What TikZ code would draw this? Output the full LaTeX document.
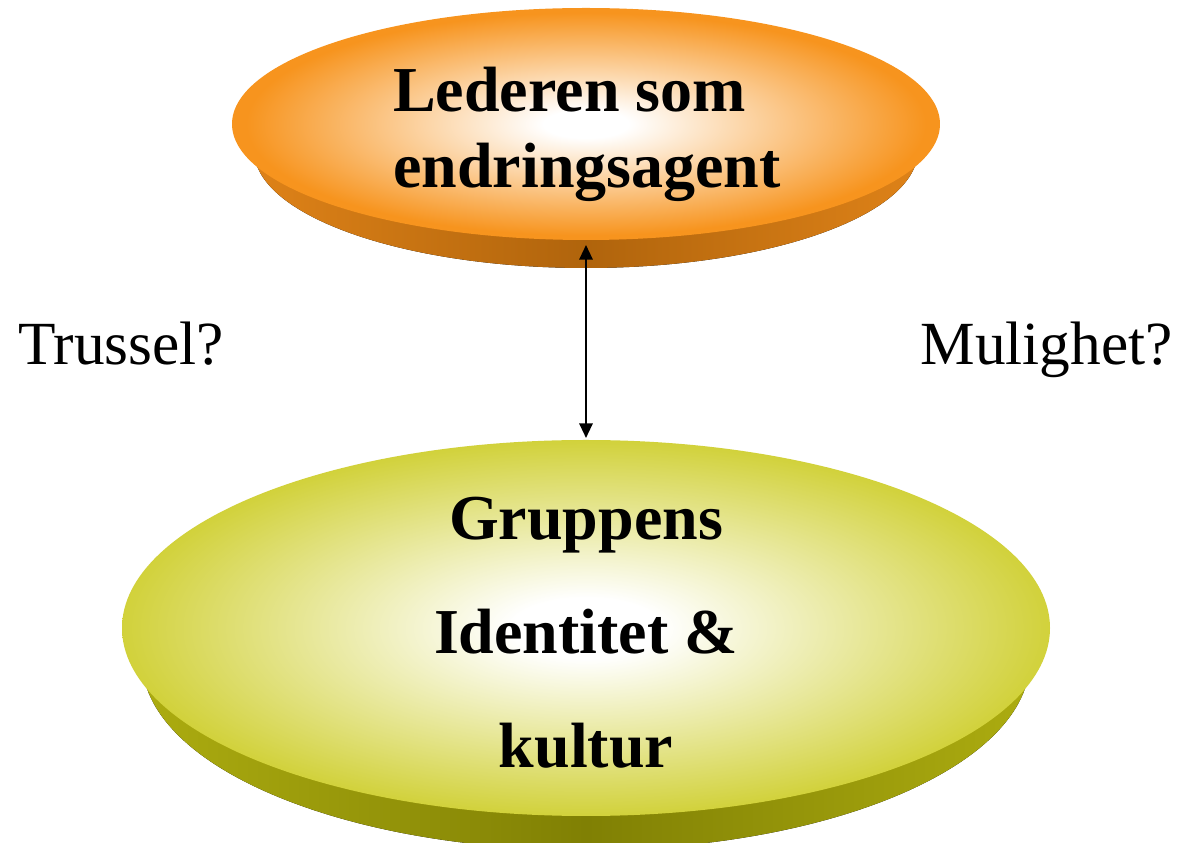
\documentclass[tikz,border=0pt]{standalone}
\usepackage{fontspec}
\setmainfont{Liberation Serif}
\usetikzlibrary{shapes.geometric,arrows.meta}

\definecolor{leadorange}{RGB}{247,148,30}
\definecolor{leadside}{RGB}{176,100,12}
\definecolor{leadsidelight}{RGB}{222,130,24}
\definecolor{groupyellow}{RGB}{205,205,40}
\definecolor{groupside}{RGB}{128,128,4}
\definecolor{groupsidelight}{RGB}{172,172,16}

% glowing faces: white centre fading to the rim colour
\pgfdeclareradialshading{leadglow}{\pgfpoint{0bp}{0bp}}{color(0bp)=(white); color(3bp)=(white); color(24bp)=(leadorange); color(50bp)=(leadorange)}
\pgfdeclareradialshading{groupglow}{\pgfpoint{0bp}{0bp}}{color(0bp)=(white); color(4bp)=(white); color(27bp)=(groupyellow); color(50bp)=(groupyellow)}

\tikzset{
  disc/.style={ellipse, inner sep=0pt, outer sep=0pt, shade},
  boldlabel/.style={font=\bfseries\fontsize{48}{57}\selectfont},
  plainlabel/.style={font=\fontsize{46}{55}\selectfont, inner sep=0pt},
  link/.style={line width=1.6pt, {Triangle[length=11pt,width=10pt]}-{Triangle[length=11pt,width=10pt]}}
}

\begin{document}
\begin{tikzpicture}[x=0.75pt,y=0.75pt]
  \useasboundingbox (0,0) rectangle (1186,843);
  \clip (0,0) rectangle (1186,843);

  % extruded sides of the two discs
  \fill[left color=leadsidelight, right color=leadsidelight, middle color=leadside]
    (586,693) ellipse [x radius=332, y radius=118];
  \fill[left color=groupsidelight, right color=groupsidelight, middle color=groupside]
    (586,183) ellipse [x radius=444, y radius=190];

  % top faces
  \node[disc, shading=leadglow, minimum width=531pt, minimum height=174pt] (lead) at (586,719) {};
  \node[disc, shading=groupglow, minimum width=696pt, minimum height=282pt] (group) at (586,215) {};

  % labels (base anchor sits on the last line)
  \node[boldlabel, align=left, anchor=base west, inner sep=0pt] (leadtext) at (393,655)
    {Lederen som\\endringsagent};
  \node[boldlabel, font=\bfseries\fontsize{48}{85.5}\selectfont, align=center, anchor=base, inner sep=0pt] (grouptext) at (586,75)
    {Gruppens\\Identitet \&\\kultur};
  \node[plainlabel, anchor=base west] (threat) at (18,478) {Trussel?};
  \node[plainlabel, anchor=base east] (chance) at (1173,478) {Mulighet?};

  % two-way link between the discs
  \draw[link, shorten <=3.75pt, shorten >=1.5pt] (lead.south) -- (group.north);
\end{tikzpicture}
\end{document}
